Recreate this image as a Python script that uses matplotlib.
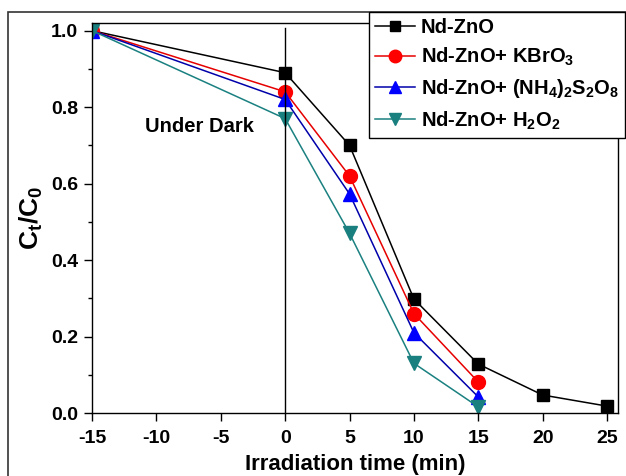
import matplotlib
matplotlib.use("Agg")
import matplotlib.pyplot as plt
from matplotlib.patches import Rectangle
from matplotlib.ticker import MultipleLocator

# irradiation time (min); negative values are the dark period
time_full = [-15, 0, 5, 10, 15, 20, 25]
time_short = [-15, 0, 5, 10, 15]

nd_zno = [1.0, 0.89, 0.70, 0.298, 0.128, 0.047, 0.018]
nd_zno_kbro3 = [1.0, 0.84, 0.62, 0.26, 0.081]
nd_zno_pds = [1.0, 0.82, 0.573, 0.21, 0.042]
nd_zno_h2o2 = [1.0, 0.77, 0.47, 0.13, 0.016]

labels = [
    "Nd-ZnO",
    r"Nd-ZnO+ KBrO$_\mathbf{3}$",
    r"Nd-ZnO+ (NH$_\mathbf{4}$)$_\mathbf{2}$S$_\mathbf{2}$O$_\mathbf{8}$",
    r"Nd-ZnO+ H$_\mathbf{2}$O$_\mathbf{2}$",
]

plt.rcParams["font.family"] = ["Liberation Sans", "DejaVu Sans"]
plt.rcParams["font.weight"] = "bold"
plt.rcParams["axes.unicode_minus"] = False
plt.rcParams["mathtext.fontset"] = "custom"
plt.rcParams["mathtext.rm"] = "Liberation Sans:bold"
plt.rcParams["mathtext.bf"] = "Liberation Sans:bold"
plt.rcParams["mathtext.it"] = "Liberation Sans:bold"

fig = plt.figure(figsize=(6.26, 4.76), dpi=100)
ax = fig.add_axes([92 / 626, 1 - 413 / 476, (618 - 92) / 626, (413 - 23) / 476])

# outer frame of the original figure
fig.patches.append(Rectangle((8 / 626, -0.1), 1.2, 1 - 12 / 476 + 0.1,
                             transform=fig.transFigure, fill=False,
                             edgecolor="#333333", linewidth=1.2))

ax.plot(time_full, nd_zno, "-s", color="black", markersize=8.5, lw=1.1,
        label=labels[0])
ax.plot(time_short, nd_zno_kbro3, "-o", color="#e60000", mfc="red", mec="red",
        markersize=10, lw=1.1, label=labels[1])
ax.plot(time_short, nd_zno_pds, "-^", color="#0000aa", mfc="blue", mec="blue",
        markersize=10, lw=1.1, label=labels[2])
ax.plot(time_short, nd_zno_h2o2, "-v", color="#1a8080", mfc="#1a7f7f",
        mec="#1a7f7f", markersize=10, lw=1.1, label=labels[3])

ax.axvline(0, ymin=0, ymax=0.987, color="black", lw=1.0)
ax.text(-10.9, 0.75, "Under Dark", fontsize=14.5, fontweight="bold",
        va="center", ha="left")

ax.set_xlim(-15, 25.85)
ax.set_ylim(0, 1.02)
ax.set_xticks([-15, -10, -5, 0, 5, 10, 15, 20, 25])
ax.set_yticks([0.0, 0.2, 0.4, 0.6, 0.8, 1.0])
ax.yaxis.set_minor_locator(MultipleLocator(0.1))
ax.set_yticklabels(["0.0", "0.2", "0.4", "0.6", "0.8", "1.0"])
ax.tick_params(axis="both", which="major", direction="out", length=6,
               width=1, labelsize=14)
ax.tick_params(axis="x", which="major", pad=6)
ax.tick_params(axis="y", which="major", pad=4)
ax.tick_params(axis="y", which="minor", direction="out", length=3, width=1)
for s in ax.spines.values():
    s.set_linewidth(1.0)

ax.set_xlabel("Irradiation time (min)", fontsize=16, fontweight="bold",
              labelpad=5)
ax.set_ylabel(r"C$_\mathbf{t}$/C$_\mathbf{0}$", fontsize=19,
              fontweight="bold", labelpad=4)

leg = fig.legend(loc="upper right", bbox_to_anchor=(625 / 626, 1 - 12 / 476),
                 fontsize=14.5, frameon=True, fancybox=False, edgecolor="black",
                 framealpha=1, borderaxespad=0, handlelength=2.0,
                 handletextpad=0.3, labelspacing=0.45, borderpad=0.3,
                 markerscale=0.9)
leg.get_frame().set_linewidth(1.0)

fig.savefig("out.png", dpi=100)
